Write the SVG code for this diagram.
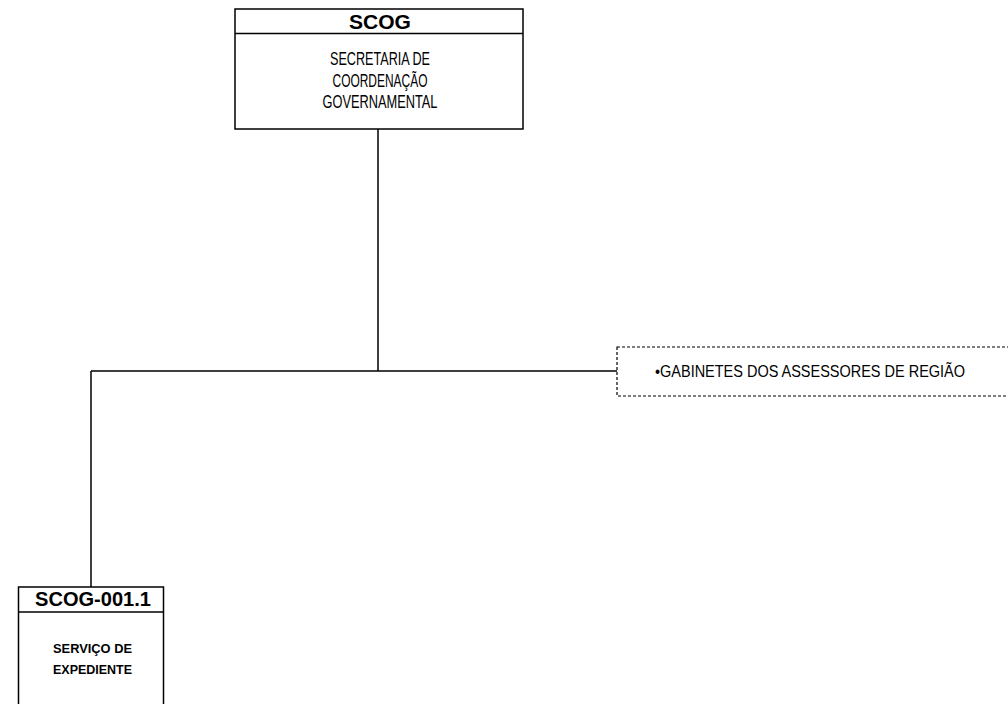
<svg xmlns="http://www.w3.org/2000/svg" width="1008" height="704" viewBox="0 0 1008 704">
<style>
.box{fill:#fff;stroke:#000;stroke-width:1.5}
.dash{fill:#fff;stroke:#000;stroke-width:1.2;stroke-dasharray:3,2}
.hd{font-family:"Liberation Sans",Arial,sans-serif;font-weight:bold;font-size:19.5px;text-anchor:middle;fill:#000}
.tx{font-family:"Liberation Sans",Arial,sans-serif;font-size:18px;text-anchor:middle;fill:#000}
.gb{font-family:"Liberation Sans",Arial,sans-serif;font-size:16.5px;fill:#000}
.sm{font-family:"Liberation Sans",Arial,sans-serif;font-weight:bold;font-size:13.5px;text-anchor:middle;fill:#000}
.ln{fill:none;stroke:#000;stroke-width:1.5}
</style>
<rect width="1008" height="704" fill="#fff"/>
<g id="connectors">
<path class="ln" d="M378 128 V371 M91 371 H617 M91 371 V587"/>
</g>
<g id="scog">
<rect class="box" x="235" y="9" width="288" height="120"/>
<line class="ln" x1="235" y1="33.5" x2="523" y2="33.5"/>
<text class="hd" x="380" y="29" textLength="62" lengthAdjust="spacingAndGlyphs">SCOG</text>
<text class="tx" x="380" y="64.5" textLength="100" lengthAdjust="spacingAndGlyphs">SECRETARIA DE</text>
<text class="tx" x="380" y="86.5" textLength="95" lengthAdjust="spacingAndGlyphs">COORDENAÇÃO</text>
<text class="tx" x="380" y="108" textLength="115" lengthAdjust="spacingAndGlyphs">GOVERNAMENTAL</text>
</g>
<g id="gabinetes">
<rect class="dash" x="617" y="347" width="400" height="49"/>
<text class="gb" x="655" y="377" textLength="310" lengthAdjust="spacingAndGlyphs">•GABINETES DOS ASSESSORES DE REGIÃO</text>
</g>
<g id="scog-001-1">
<rect class="box" x="18.5" y="587" width="145" height="130"/>
<line class="ln" x1="18.5" y1="612" x2="163.5" y2="612"/>
<text class="hd" x="93" y="606" textLength="116" lengthAdjust="spacingAndGlyphs">SCOG-001.1</text>
<text class="sm" x="92.5" y="653" textLength="79" lengthAdjust="spacingAndGlyphs">SERVIÇO DE</text>
<text class="sm" x="92.5" y="674" textLength="79" lengthAdjust="spacingAndGlyphs">EXPEDIENTE</text>
</g>
</svg>
